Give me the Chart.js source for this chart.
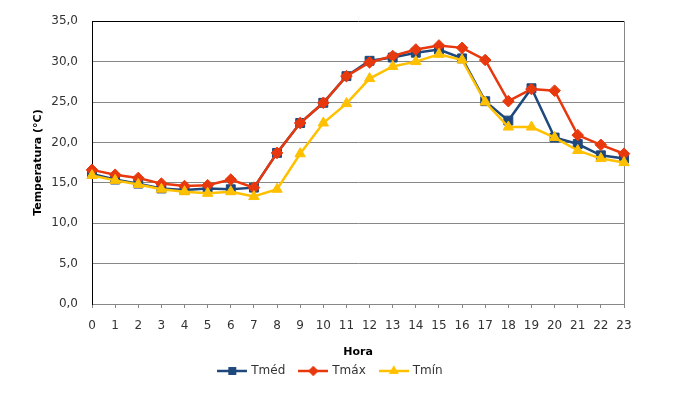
<!DOCTYPE html>
<html lang="pt">
<head>
  <meta charset="UTF-8">
  <title>Temperatura por hora</title>
  <style>
    html, body { margin: 0; padding: 0; background: #fff; }
    #wrap { width: 678px; height: 400px; position: relative; }
  </style>
</head>
<body>
  <div id="wrap"><canvas id="chart" width="678" height="400"></canvas></div>

  <script src="https://cdn.jsdelivr.net/npm/chart.js@4.4.0/dist/chart.umd.min.js"></script>
  <script>
    // hours of the day
    const hours = ['0','1','2','3','4','5','6','7','8','9','10','11','12','13','14','15','16','17','18','19','20','21','22','23'];

    // temperatures (°C)
    const tMed = [16.1, 15.4, 14.9, 14.3, 14.1, 14.3, 14.2, 14.4, 18.7, 22.4, 24.9, 28.2, 30.1, 30.5, 31.1, 31.5, 30.4, 25.1, 22.7, 26.7, 20.6, 19.8, 18.4, 18.0];
    const tMax = [16.6, 16.0, 15.6, 14.9, 14.6, 14.7, 15.4, 14.4, 18.7, 22.4, 24.9, 28.2, 29.9, 30.7, 31.5, 32.0, 31.7, 30.2, 25.1, 26.6, 26.4, 20.9, 19.7, 18.6];
    const tMin = [15.9, 15.3, 14.8, 14.2, 13.9, 13.7, 13.9, 13.3, 14.2, 18.6, 22.4, 24.8, 27.9, 29.4, 30.0, 30.9, 30.2, 25.0, 21.9, 21.9, 20.6, 19.0, 18.0, 17.5];

    const yTicks = [0, 5, 10, 15, 20, 25, 30, 35];

    const BLUE = '#1F497D';
    const RED = '#E8380D';
    const GOLD = '#FFC000';
    const GRID = '#878787';
    const TEXT = '#333333';
    const FONT = "'DejaVu Sans', Verdana, sans-serif";

    // small line + marker picture for legend entries
    function legendIcon(color, style, radius) {
      const c = document.createElement('canvas');
      c.width = 30; c.height = 14;
      const g = c.getContext('2d');
      g.strokeStyle = color;
      g.lineWidth = 2.5;
      g.beginPath(); g.moveTo(0, 7); g.lineTo(30, 7); g.stroke();
      g.fillStyle = color;
      Chart.helpers.drawPoint(g, {pointStyle: style, radius: radius, borderWidth: 0}, 15, 7);
      g.fill();
      return c;
    }

    function series(label, data, color, style, radius, order) {
      return {
        label: label,
        data: data,
        borderColor: color,
        backgroundColor: color,
        borderWidth: 2.5,
        tension: 0,
        pointStyle: style,
        pointRadius: radius,
        pointHoverRadius: radius,
        pointBorderWidth: 1,
        pointBackgroundColor: color,
        pointBorderColor: color,
        order: order,
        fill: false
      };
    }

    const datasets = [
      series('Tméd', tMed, BLUE, 'rect', 6.3, 3),
      series('Tmáx', tMax, RED, 'rectRot', 5.8, 2),
      series('Tmín', tMin, GOLD, 'triangle', 6, 1)
    ];

    const icons = [
      legendIcon(BLUE, 'rect', 5.5),
      legendIcon(RED, 'rectRot', 5),
      legendIcon(GOLD, 'triangle', 5.5)
    ];

    // nudge the legend to where it sits in the original
    const moveLegend = {
      id: 'moveLegend',
      afterLayout(chart) {
        const lg = chart.legend;
        lg.left += 19; lg.right += 19;
        lg.top -= 9; lg.bottom -= 9;
      }
    };

    new Chart(document.getElementById('chart'), {
      type: 'line',
      data: { labels: hours, datasets: datasets },
      plugins: [moveLegend],
      options: {
        responsive: false,
        animation: false,
        devicePixelRatio: 1,
        layout: { padding: { left: 0, top: 19, right: 54, bottom: 4 } },
        plugins: {
          tooltip: { enabled: false },
          legend: {
            position: 'bottom',
            labels: {
              usePointStyle: true,
              pointStyleWidth: 26,
              padding: 15,
              color: TEXT,
              font: { family: FONT, size: 12 },
              generateLabels: function(chart) {
                return chart.data.datasets.map(function(ds, i) {
                  return {
                    text: ds.label,
                    fillStyle: ds.borderColor,
                    strokeStyle: ds.borderColor,
                    fontColor: TEXT,
                    lineWidth: 0,
                    pointStyle: icons[i],
                    datasetIndex: i,
                    hidden: false
                  };
                });
              }
            }
          }
        },
        scales: {
          x: {
            offset: false,
            ticks: {
              autoSkip: false,
              maxRotation: 0,
              color: TEXT,
              padding: 11,
              font: { family: FONT, size: 12 }
            },
            grid: {
              color: function(ctx) { return ctx.index === hours.length - 1 ? GRID : 'rgba(0,0,0,0)'; },
              tickColor: GRID,
              tickLength: 4,
              lineWidth: 1
            },
            border: { color: GRID, width: 1 },
            title: {
              display: true,
              text: 'Hora',
              color: '#000',
              padding: { top: 4, bottom: 0 },
              font: { family: FONT, size: 11, weight: 'bold' }
            },
            afterFit: function(scale) { scale.height = 55; }
          },
          y: {
            min: 0,
            max: 35,
            afterBuildTicks: function(scale) {
              scale.ticks = yTicks.map(function(v) { return { value: v }; });
            },
            ticks: {
              color: TEXT,
              padding: 14,
              font: { family: FONT, size: 12 },
              callback: function(v) { return v.toFixed(1).replace('.', ','); }
            },
            grid: {
              color: function(ctx) { return ctx.tick && ctx.tick.value === 35 ? '#000' : GRID; },
              drawTicks: false,
              lineWidth: 1
            },
            border: { color: '#000', width: 1 },
            title: {
              display: true,
              text: 'Temperatura (°C)',
              color: '#000',
              padding: { top: 32, bottom: 4 },
              font: { family: FONT, size: 11, weight: 'bold' }
            },
            afterFit: function(scale) { scale.width = 92; }
          }
        }
      }
    });
  </script>
</body>
</html>
